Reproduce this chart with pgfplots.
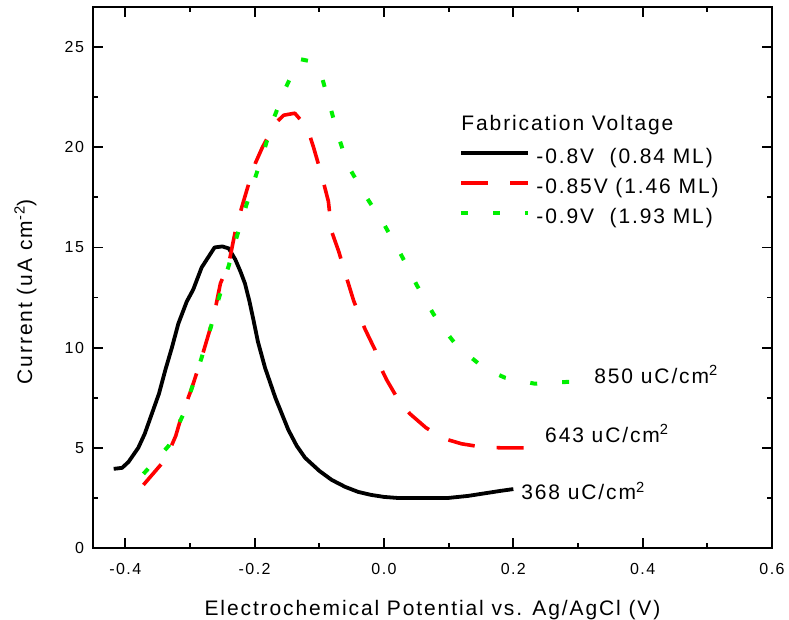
\documentclass[border=0pt]{standalone}
\usepackage{fontspec}
\setmainfont{Liberation Sans}[LetterSpace=9]
\usepackage{pgfplots}
\pgfplotsset{compat=1.18}
\definecolor{cred}{RGB}{255,0,0}
\definecolor{cgreen}{RGB}{0,240,0}
\begin{document}
\begin{tikzpicture}
\begin{axis}[
  width=679bp, height=541bp, scale only axis,
  xmin=-0.45, xmax=0.6, ymin=0, ymax=27,
  xtick={-0.4,-0.2,0,0.2,0.4,0.6},
  ytick={0,5,10,15,20,25},
  minor x tick num=1, minor y tick num=1,
  tick align=inside,
  major tick length=10bp, minor tick length=5bp,
  axis line style={line width=1.8bp},
  every tick/.style={black, line width=1.8bp},
  /pgf/number format/assume math mode=true,
  tick label style={font=\fontsize{16bp}{19bp}\selectfont},
  xticklabel style={/pgf/number format/fixed, /pgf/number format/fixed zerofill, /pgf/number format/precision=1, yshift=-11.5bp},
  yticklabel style={xshift=-5.5bp},
  label style={font=\fontsize{21bp}{24bp}\selectfont},
  xlabel={Electrochemical Potential vs. Ag/AgCl (V)},
  ylabel={Current (uA cm\textsuperscript{-2})},
  xlabel style={at={(axis description cs:0.5,0)}, anchor=base, yshift=-67bp},
  ylabel style={at={(axis description cs:-0.0898,0.474)}, anchor=base},
  legend cell align=left,
  legend image code/.code={\draw[#1] (0bp,5bp) -- (67bp,5bp);},
  legend style={at={(axis cs:0.1164,19.96)}, anchor=north west, draw=none, fill=none,
    inner sep=0pt, row sep=10bp, column sep=6bp,
    nodes={inner sep=0pt, text height=15bp, text depth=5bp},
    font=\fontsize{21bp}{24bp}\selectfont},
]
\addplot[black, line width=3.8bp, line join=round] coordinates {
(-0.418,3.95) (-0.405,4.0) (-0.395,4.3) (-0.38,5.0) (-0.37,5.7) (-0.359,6.7)
(-0.348,7.7) (-0.338,8.9) (-0.328,10.0) (-0.318,11.2) (-0.305,12.3) (-0.295,12.9)
(-0.282,14.0) (-0.27,14.6) (-0.262,15.0) (-0.25,15.05) (-0.24,14.95) (-0.23,14.4)
(-0.222,13.8) (-0.215,13.2) (-0.208,12.3) (-0.202,11.4) (-0.195,10.3) (-0.184,9.0)
(-0.168,7.5) (-0.148,5.9) (-0.135,5.1) (-0.122,4.5) (-0.10,3.85) (-0.081,3.4)
(-0.06,3.05) (-0.040,2.8) (-0.02,2.65) (0.0,2.55) (0.02,2.5) (0.06,2.5) (0.10,2.5)
(0.13,2.6) (0.16,2.75) (0.18,2.85) (0.20,2.94)
};
\addlegendentry{-0.8V\ \ (0.84 ML)}
\addplot[cred, line width=3.6bp, dash pattern=on 27bp off 22bp, line join=round] coordinates {
(-0.372,3.15) (-0.36,3.6) (-0.344,4.2) (-0.33,5.0) (-0.322,5.6) (-0.313,6.6)
(-0.305,7.3) (-0.297,8.0) (-0.289,8.8) (-0.282,9.5) (-0.271,10.7) (-0.263,11.6)
(-0.253,13.2) (-0.24,14.2) (-0.23,15.8) (-0.22,17.0) (-0.209,18.2) (-0.199,19.2)
(-0.188,20.0) (-0.178,20.6) (-0.168,21.2) (-0.155,21.6) (-0.138,21.7) (-0.119,21.0)
(-0.109,20.0) (-0.10,19.0) (-0.094,18.3) (-0.086,17.3) (-0.081,15.8) (-0.070,14.8)
(-0.058,13.5) (-0.047,12.35) (-0.038,11.6) (-0.029,10.9) (-0.014,9.9) (-0.005,9.0)
(0.004,8.4) (0.022,7.4) (0.04,6.7) (0.065,6.0) (0.08,5.7) (0.099,5.4) (0.12,5.2)
(0.149,5.05) (0.18,5.0) (0.235,5.0)
};
\addlegendentry{-0.85V (1.46 ML)}
\addplot[cgreen, line width=4bp, dash pattern=on 7bp off 25bp, line join=round] coordinates {
(-0.372,3.7) (-0.355,4.3) (-0.333,5.1) (-0.320,6.0) (-0.310,6.7) (-0.297,8.0)
(-0.282,9.5) (-0.268,11.0) (-0.256,12.4) (-0.240,14.1) (-0.228,15.5) (-0.215,16.9)
(-0.199,18.5) (-0.184,20.0) (-0.171,21.4) (-0.153,22.9) (-0.140,23.8) (-0.130,24.4)
(-0.115,24.3) (-0.096,23.5) (-0.083,22.0) (-0.071,20.6) (-0.056,19.1) (-0.029,17.6)
(0.001,16.1) (0.027,14.6) (0.051,13.1) (0.076,11.7) (0.093,10.9) (0.110,10.2)
(0.135,9.5) (0.156,8.95) (0.187,8.5) (0.233,8.2) (0.26,8.25) (0.29,8.3)
};
\addlegendentry{-0.9V\ \ (1.93 ML)}
\node[anchor=base west, inner sep=0pt, font=\fontsize{21bp}{24bp}\selectfont] at (axis cs:0.1195,20.86) {Fabrication Voltage};
\node[anchor=base west, inner sep=0pt, font=\fontsize{21bp}{24bp}\selectfont] at (axis cs:0.325,8.23) {850 uC/cm\textsuperscript{2}};
\node[anchor=base west, inner sep=0pt, font=\fontsize{21bp}{24bp}\selectfont] at (axis cs:0.249,5.29) {643 uC/cm\textsuperscript{2}};
\node[anchor=base west, inner sep=0pt, font=\fontsize{21bp}{24bp}\selectfont] at (axis cs:0.212,2.40) {368 uC/cm\textsuperscript{2}};
\end{axis}
\pgfresetboundingbox
\path[use as bounding box] ([shift={(-93bp,-72bp)}]current axis.south west) rectangle ([shift={(17bp,7bp)}]current axis.north east);
\end{tikzpicture}
\end{document}
